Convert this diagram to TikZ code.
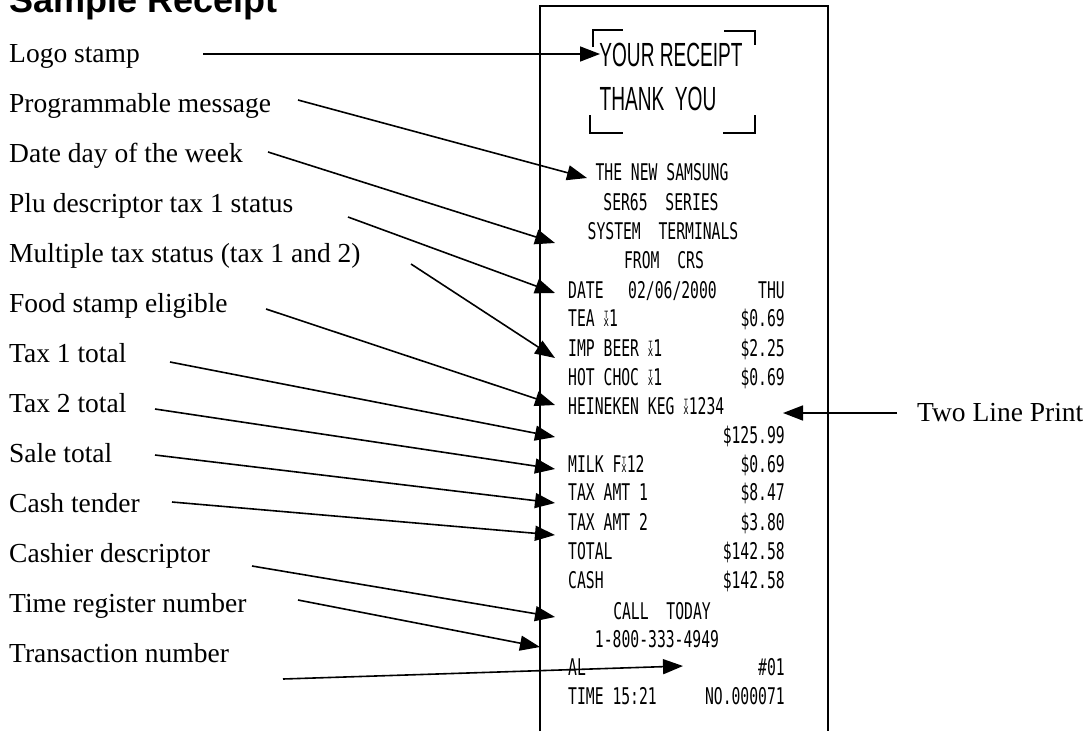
\documentclass[tikz,border=0pt]{standalone}
\usepackage{fontspec}
\setmainfont{Liberation Serif}
\newfontfamily\headfont{Liberation Sans}
\newfontfamily\rcptfont[FakeStretch=0.64]{DejaVu Sans Mono}
\newfontfamily\stampfont[FakeStretch=0.57]{Liberation Sans}
\usetikzlibrary{arrows.meta,calc}
\newcommand{\taxsym}[1]{\ooalign{\hfil\raisebox{8.5pt}{\fontsize{10}{10}\selectfont #1}\hfil\cr\hfil{\fontsize{14}{14}\selectfont x}\hfil\cr}}
\begin{document}
\begin{tikzpicture}[x=1pt,y=-1pt,
  lbl/.style={anchor=base west,inner sep=0pt,font=\fontsize{27.5}{30}\selectfont},
  rc/.style={inner sep=0pt,font=\rcptfont\fontsize{23}{26}\selectfont},
  rl/.style={rc,anchor=base west},
  rr/.style={rc,anchor=base east},
  rm/.style={rc,anchor=base},
  stamp/.style={inner sep=0pt,anchor=base,font=\stampfont\fontsize{33.5}{36}\selectfont},
  arr/.style={line width=1.6pt,-{Triangle[length=20pt,width=15pt]}},
  brk/.style={line width=1.5pt},
  border/.style={line width=1.6pt}]
\useasboundingbox (0,0) rectangle (1091,731);
% heading
\node[anchor=base west,inner sep=0pt,font=\headfont\bfseries\fontsize{36}{40}\selectfont] (title) at (9,12) {Sample Receipt};
% receipt border
\draw[border] (540,731) -- (540,6) -- (828,6) -- (828,731);
% logo stamp
\node[stamp] (your) at (671,66) {YOUR RECEIPT};
\node[stamp] (thank) at (658,110) {THANK\ \ YOU};
\draw[brk] (593,47) -- (593,30) -- (623,30);
\draw[brk] (724,31) -- (755,31) -- (755,45);
\draw[brk] (590,115) -- (590,133) -- (623,133);
\draw[brk] (723,133) -- (755,133) -- (755,115);
% receipt text
\node[rm] (r1) at (662,180.5) {THE NEW SAMSUNG};
\node[rm] (r2) at (661,210.5) {SER65\ \ SERIES};
\node[rm] (r3) at (663,239.5) {SYSTEM\ \ TERMINALS};
\node[rm] (r4) at (664,268.5) {FROM\ \ CRS};
\node[rl] (r5a) at (568,298.5) {DATE};
\node[rl] (r5b) at (628,298.5) {02/06/2000};
\node[rr] (r5c) at (785,298.5) {THU};
\node[rl] (r6a) at (568,326.5) {TEA \taxsym{T}1};
\node[rr] (r6b) at (785,326.5) {\$0.69};
\node[rl] (r7a) at (568,356.5) {IMP BEER \taxsym{T}1};
\node[rr] (r7b) at (785,356.5) {\$2.25};
\node[rl] (r8a) at (568,385.5) {HOT CHOC \taxsym{T}1};
\node[rr] (r8b) at (785,385.5) {\$0.69};
\node[rl] (r9a) at (568,414.5) {HEINEKEN KEG \taxsym{T}1234};
\node[rr] (r10b) at (785,443.5) {\$125.99};
\node[rl] (r11a) at (568,472.5) {MILK F\taxsym{T}12};
\node[rr] (r11b) at (785,472.5) {\$0.69};
\node[rl] (r12a) at (568,500.5) {TAX AMT 1};
\node[rr] (r12b) at (785,500.5) {\$8.47};
\node[rl] (r13a) at (568,530.5) {TAX AMT 2};
\node[rr] (r13b) at (785,530.5) {\$3.80};
\node[rl] (r14a) at (568,559.5) {TOTAL};
\node[rr] (r14b) at (785,559.5) {\$142.58};
\node[rl] (r15a) at (568,588.5) {CASH};
\node[rr] (r15b) at (785,588.5) {\$142.58};
\node[rm] (r16) at (662,619.5) {CALL\ \ TODAY};
\node[rm] (r17) at (657,647.5) {1-800-333-4949};
\node[rl] (r18a) at (568,675.5) {AL};
\node[rr] (r18b) at (785,675.5) {\#01};
\node[rl] (r19a) at (568,704.5) {TIME 15:21};
\node[rr] (r19b) at (785,704.5) {NO.000071};
% labels
\node[lbl] (l1) at (9,62) {Logo stamp};
\node[lbl] (l2) at (9,112) {Programmable message};
\node[lbl] (l3) at (9,162) {Date day of the week};
\node[lbl] (l4) at (9,212) {Plu descriptor tax 1 status};
\node[lbl] (l5) at (9,262) {Multiple tax status (tax 1 and 2)};
\node[lbl] (l6) at (9,312) {Food stamp eligible};
\node[lbl] (l7) at (9,362) {Tax 1 total};
\node[lbl] (l8) at (9,412) {Tax 2 total};
\node[lbl] (l9) at (9,462) {Sale total};
\node[lbl] (l10) at (9,512) {Cash tender};
\node[lbl] (l11) at (9,562) {Cashier descriptor};
\node[lbl] (l12) at (9,612) {Time register number};
\node[lbl] (l13) at (9,662) {Transaction number};
\node[lbl] (two) at (917,421) {Two Line Print};
% arrow coordinates
\coordinate (s1) at (203,54);   \coordinate (t1) at (600,54);
\coordinate (s2) at (298,100);  \coordinate (t2) at (587,178);
\coordinate (s3) at (268,152);  \coordinate (t3) at (555,243);
\coordinate (s4) at (348,217);  \coordinate (t4) at (555,293);
\coordinate (s5) at (411,264);  \coordinate (t5) at (555,358);
\coordinate (s6) at (266,309);  \coordinate (t6) at (555,405);
\coordinate (s7) at (170,362);  \coordinate (t7) at (555,437);
\coordinate (s8) at (155,409);  \coordinate (t8) at (555,469);
\coordinate (s9) at (155,455);  \coordinate (t9) at (555,503);
\coordinate (s10) at (172,502); \coordinate (t10) at (555,535);
\coordinate (s11) at (252,566); \coordinate (t11) at (555,617);
\coordinate (s12) at (298,600); \coordinate (t12) at (540,647);
\coordinate (s13) at (283,679); \coordinate (t13) at (683,666);
\coordinate (s14) at (897,413); \coordinate (t14) at (783,413);
\foreach \i in {1,...,14}{\draw[arr] (s\i) -- (t\i);}
\end{tikzpicture}
\end{document}
